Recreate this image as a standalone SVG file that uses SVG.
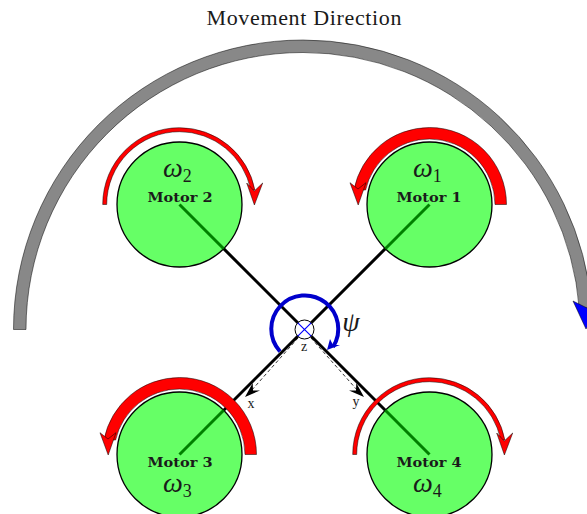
<svg xmlns="http://www.w3.org/2000/svg" xmlns:xlink="http://www.w3.org/1999/xlink" width="587" height="514" viewBox="0 0 587 514">
<style>
text{font-family:"Liberation Serif","DejaVu Serif",serif;fill:#1a1a1a}
.motor{fill:#66ff66;stroke:#000;stroke-width:1.3}
.arm{stroke:#000;stroke-width:3;fill:none}
.shaft{stroke:#008000;stroke-width:3;fill:none}
.red{fill:#ff0000;stroke:#000;stroke-width:.5}
.lab{font-family:"DejaVu Serif",serif;font-size:12.5px;font-weight:bold;text-anchor:middle}
.om{font-size:28px;font-style:italic}
.sub{font-size:18px;font-style:normal}
.small{font-size:14px;text-anchor:middle}
.dash{stroke:#000;stroke-width:.8;stroke-dasharray:3.5 2.5;fill:none}
</style>
<defs>
<g id="thick">
<path class="red" d="M506.5,204.5A77,77 0 0 0 429.5,127.5A77,77 0 0 0 353.9,190L365.6,190A65.5,65.5 0 0 1 429.5,139A65.5,65.5 0 0 1 495,204.5Z"/>
<path class="red" d="M350,182.7L358.2,205L366,182.7L358,189Z"/>
</g>
<g id="thin">
<path class="red" d="M102.7,204.5A76.8,76.8 0 0 1 179.5,127.7A76.8,76.8 0 0 1 254.9,190L250.8,190A72.8,72.8 0 0 0 179.5,131.7A72.8,72.8 0 0 0 106.7,204.5Z"/>
<path class="red" d="M246.7,183L254.4,205L262.7,183L254.3,191Z"/>
</g>
</defs>
<rect width="587" height="514" fill="#fff"/>
<text x="304" y="25" font-size="22" text-anchor="middle" textLength="195" lengthAdjust="spacing">Movement Direction</text>
<g id="movement-arc">
<path d="M13.5,329.5A289.5,289.5 0 0 1 303,40A289.5,289.5 0 0 1 591.7,308L579.2,308A277,277 0 0 0 303,52.5A277,277 0 0 0 26,329.5Z" fill="#888888" stroke="#000" stroke-width=".5"/>
<path d="M573,301L586,329L602,301L587,308Z" fill="#0000ff" stroke="#000" stroke-width=".5"/>
</g>
<g id="connectors">
<path class="arm" d="M179.5,204.5L429.5,454.5M429.5,204.5L179.5,454.5"/>
<path class="dash" d="M298,338L251,391M311,338L358,391"/>
<path d="M245,397L260,390.5L253,390.5L252.7,383Z" fill="#000"/>
<path d="M364,397L349,390.5L356,390.5L356.3,383Z" fill="#000"/>
</g>
<g id="motor1">
<circle class="motor" cx="429.5" cy="204.5" r="62.5"/>
<path class="shaft" d="M429.5,204.5L385.3,248.7"/>
<use href="#thick"/>
<text class="om" x="413" y="177">ω<tspan class="sub" dy="5">1</tspan></text>
<text class="lab" x="429" y="202" textLength="65" lengthAdjust="spacingAndGlyphs">Motor 1</text>
</g>
<g id="motor2">
<circle class="motor" cx="179.5" cy="204.5" r="62.5"/>
<path class="shaft" d="M179.5,204.5L223.7,248.7"/>
<use href="#thin"/>
<text class="om" x="163" y="177">ω<tspan class="sub" dy="5">2</tspan></text>
<text class="lab" x="180" y="202" textLength="65" lengthAdjust="spacingAndGlyphs">Motor 2</text>
</g>
<g id="motor3">
<circle class="motor" cx="179.5" cy="454.5" r="62.5"/>
<path class="shaft" d="M179.5,454.5L223.7,410.3"/>
<use href="#thick" transform="translate(-250,250)"/>
<text class="om" x="163" y="492">ω<tspan class="sub" dy="5">3</tspan></text>
<text class="lab" x="180" y="467" textLength="65" lengthAdjust="spacingAndGlyphs">Motor 3</text>
</g>
<g id="motor4">
<circle class="motor" cx="429.5" cy="454.5" r="62.5"/>
<path class="shaft" d="M429.5,454.5L385.3,410.3"/>
<use href="#thin" transform="translate(250,250)"/>
<text class="om" x="413" y="492">ω<tspan class="sub" dy="5">4</tspan></text>
<text class="lab" x="429" y="467" textLength="65" lengthAdjust="spacingAndGlyphs">Motor 4</text>
</g>
<g id="center">
<circle cx="304.5" cy="329.5" r="9.5" fill="#fff" stroke="#000" stroke-width="1"/>
<path d="M297.8,322.8L311.2,336.2M311.2,322.8L297.8,336.2" stroke="#0000ff" stroke-width="1.2" fill="none"/>
<path d="M280,351.5A33.5,33.5 0 1 1 333,347" fill="none" stroke="#0000cc" stroke-width="4"/>
<path d="M327,350L340,345L333,345L330,339Z" fill="#0000cc"/>
<text x="351" y="331" font-size="28" font-style="italic" text-anchor="middle">ψ</text>
<text class="small" x="304" y="351">z</text>
<text class="small" x="251" y="408">x</text>
<text class="small" x="356" y="406">y</text>
</g>
</svg>
